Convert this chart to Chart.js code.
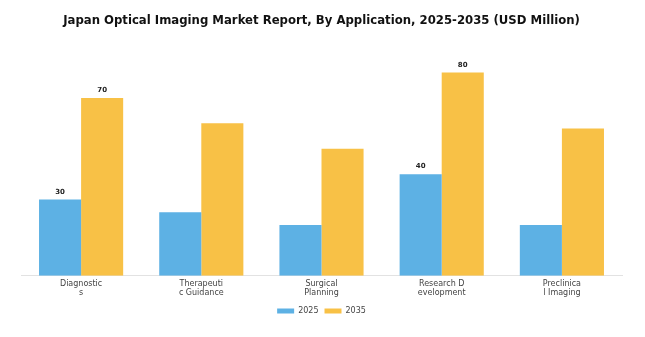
<!DOCTYPE html>
<html lang="en">
<head>
    <meta charset="UTF-8">
    <title>Japan Optical Imaging Market Report</title>
    <script src="https://cdn.jsdelivr.net/npm/chart.js"></script>
    <style>
        html, body {
            margin: 0;
            padding: 0;
            background: #fff;
        }
        .wrap {
            width: 645px;
            height: 337px;
            position: relative;
        }
    </style>
</head>
<body>
<div class="wrap">
    <canvas id="marketChart"></canvas>
</div>

<script>
    // categories (labels are split the same way as in the source image)
    const categories = [
        ['Diagnostic', 's'],
        ['Therapeuti', 'c Guidance'],
        ['Surgical', 'Planning'],
        ['Research D', 'evelopment'],
        ['Preclinica', 'l Imaging']
    ];
    const values2025 = [30, 25, 20, 40, 20];
    const values2035 = [70, 60, 50, 80, 58];
    // only some bars carry a value label
    const shown2025 = [true, false, false, true, false];
    const shown2035 = [true, false, false, true, false];

    // simple value labels above chosen bars
    const barLabels = {
        id: 'barLabels',
        afterDatasetsDraw(chart) {
            const ctx = chart.ctx;
            ctx.save();
            ctx.font = 'bold 7px "DejaVu Sans"';
            ctx.fillStyle = '#222';
            ctx.textAlign = 'center';
            ctx.textBaseline = 'bottom';
            chart.data.datasets.forEach((ds, i) => {
                const meta = chart.getDatasetMeta(i);
                meta.data.forEach((bar, j) => {
                    if (!ds.showLabel[j]) return;
                    ctx.fillText(ds.data[j], bar.x, bar.y - 4);
                });
            });
            ctx.restore();
        }
    };

    const ctx = document.getElementById('marketChart').getContext('2d');
    new Chart(ctx, {
        type: 'bar',
        data: {
            labels: categories,
            datasets: [
                { label: '2025', data: values2025, showLabel: shown2025, backgroundColor: '#5DB1E4' },
                { label: '2035', data: values2035, showLabel: shown2035, backgroundColor: '#F8C146' }
            ]
        },
        options: {
            responsive: true,
            maintainAspectRatio: false,
            animation: false,
            layout: { padding: { left: 21, right: 23, top: 0, bottom: 12 } },
            datasets: {
                bar: { categoryPercentage: 0.7, barPercentage: 1.0 }
            },
            plugins: {
                title: {
                    display: true,
                    text: 'Japan Optical Imaging Market Report, By Application, 2025-2035 (USD Million)',
                    font: { family: 'DejaVu Sans', size: 11.7, weight: 'bold' },
                    color: '#111',
                    padding: { top: 14, bottom: 19 }
                },
                legend: {
                    position: 'bottom',
                    labels: {
                        boxWidth: 17,
                        boxHeight: 5,
                        font: { family: 'DejaVu Sans', size: 8 },
                        color: '#444',
                        padding: 6
                    }
                },
                tooltip: { enabled: false }
            },
            scales: {
                x: {
                    grid: { display: false, drawTicks: false },
                    border: { color: '#e2e2e2' },
                    ticks: {
                        font: { family: 'DejaVu Sans', size: 8 },
                        color: '#444',
                        padding: 3,
                        maxRotation: 0
                    }
                },
                y: {
                    display: false,
                    min: 0,
                    max: 90
                }
            }
        },
        plugins: [barLabels]
    });
</script>
</body>
</html>
